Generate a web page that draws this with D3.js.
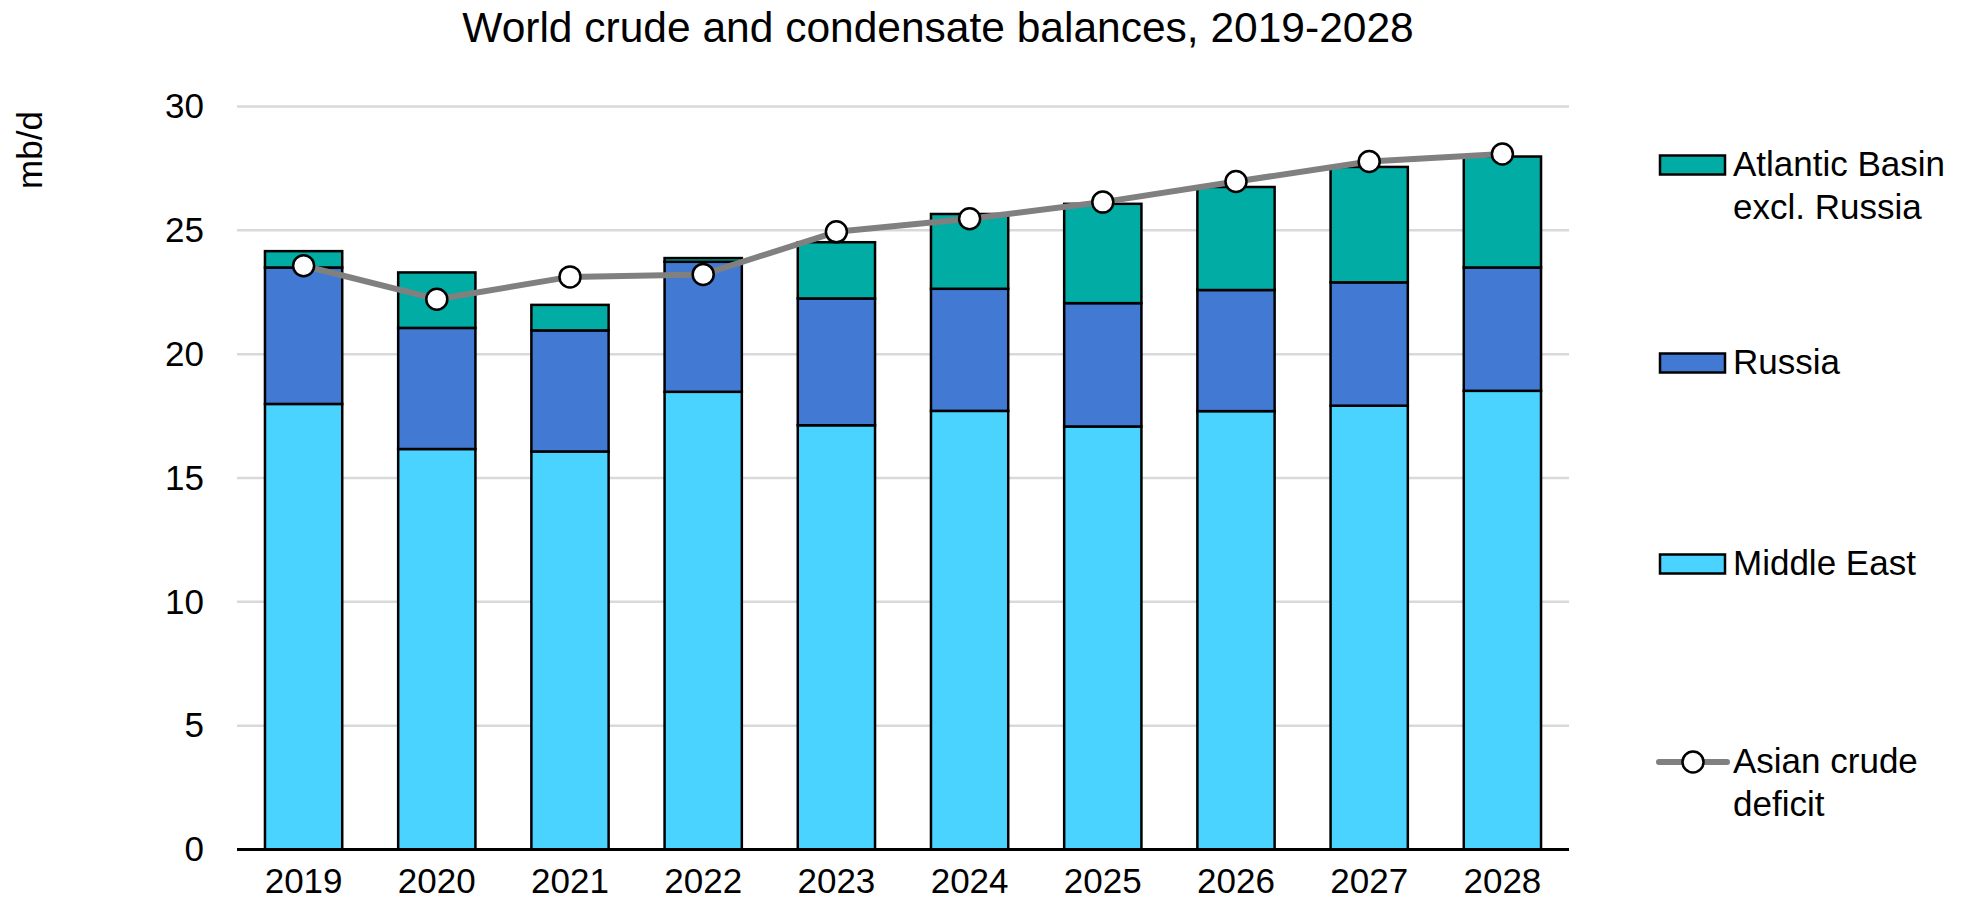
<!DOCTYPE html>
<html>
<head>
<meta charset="utf-8">
<script src="https://cdn.jsdelivr.net/npm/d3@7"></script>
<style>
  html, body { margin: 0; padding: 0; background: #fff; }
  svg { display: block; font-family: "Liberation Sans", Arial, sans-serif; }
</style>
</head>
<body>
<svg id="chart" width="1962" height="900"></svg>
<script>
// Crude and condensate balances, mb/d
const years = ["2019", "2020", "2021", "2022", "2023", "2024", "2025", "2026", "2027", "2028"];
const middleEast = [17.99, 16.17, 16.07, 18.48, 17.13, 17.71, 17.08, 17.70, 17.92, 18.52];
const russia     = [5.51, 4.89, 4.89, 5.25, 5.12, 4.93, 4.98, 4.89, 4.98, 4.98];
const atlantic   = [0.66, 2.24, 1.03, 0.15, 2.27, 3.02, 4.01, 4.16, 4.66, 4.48];
const asianDeficit = [23.57, 22.22, 23.12, 23.22, 24.94, 25.47, 26.14, 26.97, 27.78, 28.08];
const yTicks = [0, 5, 10, 15, 20, 25, 30];

const seriesKeys = ["Middle East", "Russia", "Atlantic Basin excl. Russia"];
const seriesColors = {
  "Middle East": "#4AD3FF",
  "Russia": "#4179D3",
  "Atlantic Basin excl. Russia": "#00ACA3"
};

const rows = years.map((yr, i) => ({
  year: yr,
  "Middle East": middleEast[i],
  "Russia": russia[i],
  "Atlantic Basin excl. Russia": atlantic[i]
}));

const svg = d3.select("#chart");
const plotLeft = 237, plotRight = 1569, plotTop = 106.5, plotBottom = 849.5;
const labelSize = 35;

const x = d3.scaleBand().domain(years).range([plotLeft, plotRight]).paddingInner(0.42).paddingOuter(0.21);
const y = d3.scaleLinear().domain([0, 30]).range([plotBottom, plotTop]);

// Title
svg.append("text")
  .attr("x", 938).attr("y", 42)
  .attr("text-anchor", "middle")
  .attr("font-size", 42.5)
  .attr("fill", "#000")
  .text("World crude and condensate balances, 2019-2028");

// Unit label
svg.append("text")
  .attr("transform", "translate(42,150) rotate(-90)")
  .attr("text-anchor", "middle")
  .attr("font-size", labelSize)
  .attr("fill", "#000")
  .text("mb/d");

// Gridlines
svg.append("g")
  .selectAll("line")
  .data(yTicks.filter(t => t > 0))
  .join("line")
  .attr("x1", plotLeft).attr("x2", plotRight)
  .attr("y1", d => y(d)).attr("y2", d => y(d))
  .attr("stroke", "#d9d9d9")
  .attr("stroke-width", 2.5);

// Y axis tick labels
const yAxis = svg.append("g")
  .attr("transform", `translate(${plotLeft},0)`)
  .call(d3.axisLeft(y).tickValues(yTicks).tickSize(0).tickPadding(33));
yAxis.select(".domain").remove();
yAxis.selectAll("text")
  .attr("font-size", labelSize)
  .attr("font-family", "Liberation Sans, Arial, sans-serif")
  .attr("fill", "#000");

// Stacked bars
const stacked = d3.stack().keys(seriesKeys)(rows);
svg.append("g")
  .selectAll("g")
  .data(stacked)
  .join("g")
  .attr("fill", d => seriesColors[d.key])
  .selectAll("rect")
  .data(d => d)
  .join("rect")
  .attr("x", d => x(d.data.year))
  .attr("y", d => y(d[1]))
  .attr("width", x.bandwidth())
  .attr("height", d => y(d[0]) - y(d[1]))
  .attr("stroke", "#000")
  .attr("stroke-width", 2.5);

// Baseline axis
const xAxis = svg.append("g")
  .attr("transform", `translate(0,${plotBottom})`)
  .call(d3.axisBottom(x).tickSize(0).tickPadding(19));
xAxis.select(".domain")
  .attr("stroke", "#000")
  .attr("stroke-width", 3)
  .attr("d", `M${plotLeft},0H${plotRight}`);
xAxis.selectAll("text")
  .attr("font-size", labelSize)
  .attr("font-family", "Liberation Sans, Arial, sans-serif")
  .attr("fill", "#000");

// Asian crude deficit line
const line = d3.line()
  .x((d, i) => x(years[i]) + x.bandwidth() / 2)
  .y(d => y(d));
svg.append("path")
  .datum(asianDeficit)
  .attr("d", line)
  .attr("fill", "none")
  .attr("stroke", "#808080")
  .attr("stroke-width", 6)
  .attr("stroke-linejoin", "round");
svg.append("g")
  .selectAll("circle")
  .data(asianDeficit)
  .join("circle")
  .attr("cx", (d, i) => x(years[i]) + x.bandwidth() / 2)
  .attr("cy", d => y(d))
  .attr("r", 10.5)
  .attr("fill", "#fff")
  .attr("stroke", "#000")
  .attr("stroke-width", 2.5);

// Legend
const legend = svg.append("g").attr("font-size", labelSize).attr("fill", "#000");
const legendItems = [
  { key: "Atlantic Basin excl. Russia", lines: ["Atlantic Basin", "excl. Russia"], cy: 165, type: "rect" },
  { key: "Russia", lines: ["Russia"], cy: 363, type: "rect" },
  { key: "Middle East", lines: ["Middle East"], cy: 564, type: "rect" },
  { key: "Asian crude deficit", lines: ["Asian crude", "deficit"], cy: 762, type: "line" }
];
legendItems.forEach(item => {
  const g = legend.append("g");
  if (item.type === "rect") {
    g.append("rect")
      .attr("x", 1660).attr("y", item.cy - 9.5)
      .attr("width", 65).attr("height", 19)
      .attr("fill", seriesColors[item.key])
      .attr("stroke", "#000").attr("stroke-width", 2.5);
  } else {
    g.append("line")
      .attr("x1", 1659).attr("x2", 1727)
      .attr("y1", item.cy).attr("y2", item.cy)
      .attr("stroke", "#808080").attr("stroke-width", 6)
      .attr("stroke-linecap", "round");
    g.append("circle")
      .attr("cx", 1693).attr("cy", item.cy).attr("r", 10.5)
      .attr("fill", "#fff").attr("stroke", "#000").attr("stroke-width", 2.5);
  }
  item.lines.forEach((t, j) => {
    g.append("text")
      .attr("x", 1733)
      .attr("y", item.cy + 11 + j * 42.5)
      .text(t);
  });
});
</script>
</body>
</html>
